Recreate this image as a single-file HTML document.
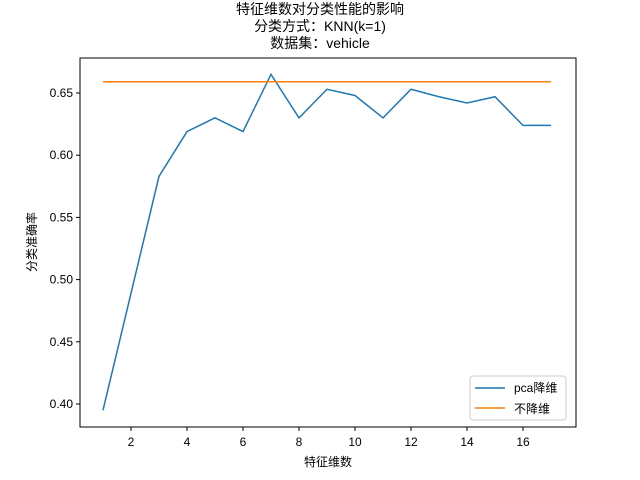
<!DOCTYPE html>
<html><head><meta charset="utf-8"><style>body{margin:0;background:#fff}svg{display:block}text{font-family:"Liberation Sans","Noto Sans CJK SC",sans-serif;fill:#000}</style></head>
<body>
<svg id="chart" width="640" height="480" xmlns="http://www.w3.org/2000/svg">
<g>
<text x="320" y="14" text-anchor="middle" font-size="14">特征维数对分类性能的影响</text>
<text x="320" y="31" text-anchor="middle" font-size="14">分类方式：KNN(k=1)</text>
<text x="320" y="48" text-anchor="middle" font-size="14">数据集：vehicle</text>
</g>
<g id="plot"></g>
<rect x="80" y="58" width="496" height="369" fill="none" stroke="#000" stroke-width="1"/>
<text x="328" y="466" text-anchor="middle" font-size="12">特征维数</text>
<text transform="translate(36,242) rotate(-90)" text-anchor="middle" font-size="12">分类准确率</text>
<g>
<rect x="470" y="376" width="96" height="44" rx="3" fill="#fff" stroke="#ccc"/>
<line x1="475" y1="388" x2="505" y2="388" stroke="#1f77b4" stroke-width="1.5"/>
<text x="514" y="392" font-size="12">pca降维</text>
<line x1="475" y1="408" x2="505" y2="408" stroke="#ff7f0e" stroke-width="1.5"/>
<text x="514" y="413" font-size="12">不降维</text>
</g>
</svg>
<script>
const dims=[1,2,3,4,5,6,7,8,9,10,11,12,13,14,15,16,17];
const pcaAcc=[0.395,0.489,0.583,0.619,0.630,0.619,0.665,0.630,0.653,0.648,0.630,0.653,0.647,0.642,0.647,0.624,0.624];
const baseAcc=0.659;
const xTicks=[2,4,6,8,10,12,14,16];
const yTicks=[0.40,0.45,0.50,0.55,0.60,0.65];
const X=v=>103+(v-1)*28;
const Y=v=>404-(v-0.40)*1244;
const NS='http://www.w3.org/2000/svg';
const g=document.getElementById('plot');
function mk(t,a){const e=document.createElementNS(NS,t);for(const k in a)e.setAttribute(k,a[k]);g.appendChild(e);return e;}
xTicks.forEach(t=>{
 const l=mk('line',{x1:X(t),x2:X(t),y1:427,y2:431,stroke:'#000'});
 
 
 const s=mk('text',{x:X(t),y:446,'text-anchor':'middle','font-size':12});s.textContent=t;
 
 
});
yTicks.forEach(t=>{
 const l=mk('line',{x1:76,x2:80,y1:Y(t),y2:Y(t),stroke:'#000'});
 
 
 const s=mk('text',{x:73,y:Y(t)+4,'text-anchor':'end','font-size':12});s.textContent=t.toFixed(2);
 
 
});
const p=mk('polyline',{points:dims.map((d,i)=>X(d)+','+Y(pcaAcc[i])).join(' '),fill:'none',stroke:'#1f77b4','stroke-width':1.5});


const b=mk('line',{x1:X(dims[0]),x2:X(dims[dims.length-1]),y1:Y(baseAcc),y2:Y(baseAcc),stroke:'#ff7f0e','stroke-width':1.5});


</script>
</body></html>
